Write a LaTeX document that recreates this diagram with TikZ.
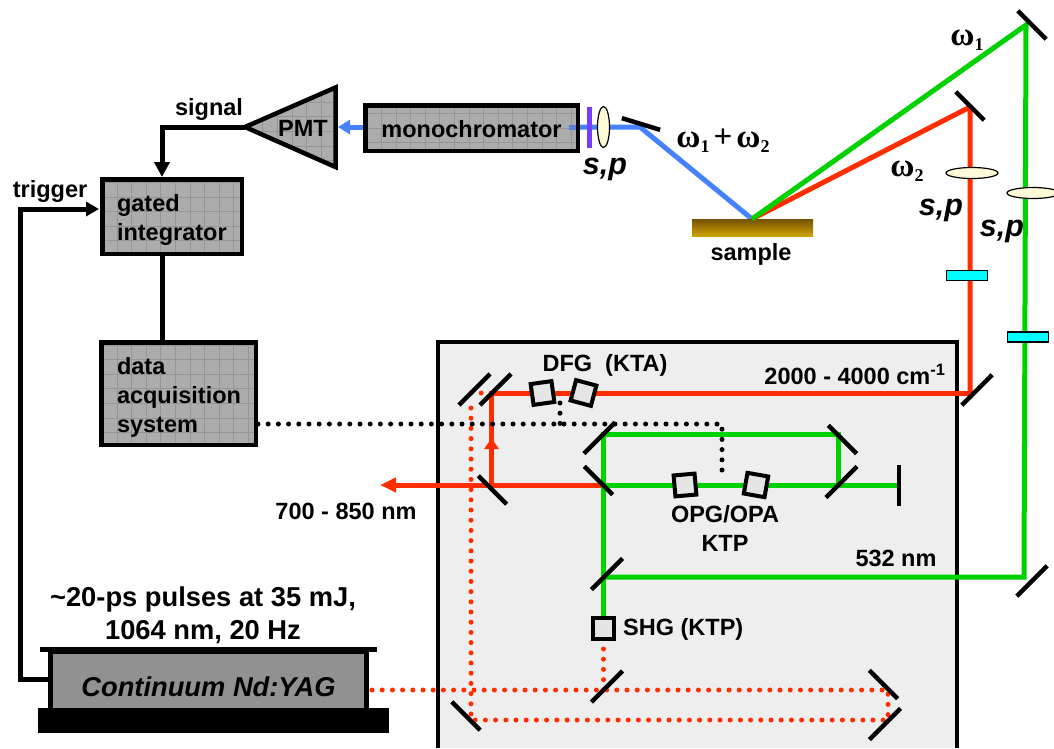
\documentclass[tikz,border=0pt]{standalone}
\usepackage{fontspec}
\setmainfont{Liberation Sans}
\newfontfamily\omegafont{Liberation Serif}
\usetikzlibrary{arrows.meta,shapes.geometric}
\definecolor{beamred}{RGB}{255,45,0}
\definecolor{beamgreen}{RGB}{0,210,0}
\definecolor{beamblue}{RGB}{70,130,255}
\definecolor{boxgray}{RGB}{172,172,172}
\definecolor{gridgray}{RGB}{150,150,150}
\definecolor{tablegray}{RGB}{238,238,238}
\definecolor{lensyellow}{RGB}{255,250,215}
\definecolor{plateblue}{RGB}{0,255,255}
\definecolor{platepurple}{RGB}{120,60,255}
\definecolor{sampletop}{RGB}{115,82,5}
\definecolor{samplebot}{RGB}{208,162,0}
\newcommand{\omegasub}[1]{ω\raisebox{-5pt}{\fontsize{18}{18}\selectfont #1}}
\tikzset{
  every node/.style={font=\fontsize{23.5}{29}\selectfont\bfseries,inner sep=0pt},
  gridbox/.style={draw=black,line width=4.5pt,fill=boxgray,path picture={
    \draw[gridgray,line width=0.7pt,step=14.6pt] (path picture bounding box.south west) grid (path picture bounding box.north east);}},
  mirror/.style={rectangle,fill=black,minimum width=#1,minimum height=4.5pt},
  mirror/.default=42pt,
  crystal/.style={rectangle,draw=black,line width=4pt,fill=black!10,minimum size=21pt},
  lens/.style={ellipse,draw=black,line width=1.2pt,fill=lensyellow},
  waveplate/.style={rectangle,draw=black,line width=1.2pt,fill=plateblue,minimum width=41pt,minimum height=10pt},
  italics/.style={font=\fontsize{30.5}{34}\selectfont\bfseries\itshape},
  omega/.style={font=\fontsize{33}{36}\selectfont\omegafont\bfseries},
  bigtext/.style={font=\fontsize{27.3}{33}\selectfont\bfseries},
  redbeam/.style={beamred,line width=5pt},
  greenbeam/.style={beamgreen,line width=5pt},
  bluebeam/.style={beamblue,line width=5pt},
  wire/.style={black,line width=5pt},
  reddots/.style={beamred,line width=5pt,line cap=round,dash pattern=on 0pt off 10.2pt},
  blackdots/.style={black,line width=5pt,line cap=round,dash pattern=on 0pt off 10.2pt},
}
\begin{document}
\begin{tikzpicture}[x=1pt,y=-1pt]
  \useasboundingbox (0,0) rectangle (1054,748);
  \fill[tablegray] (438,748) -- (438,342) -- (957,342) -- (957,748) -- cycle;
  \draw[black,line width=4.5pt] (438,748) -- (438,342) -- (957,342) -- (957,748);

  \node[gridbox,minimum width=139.5pt,minimum height=74.5pt,text width=110pt,align=left] (gated) at (172,216.5) {\rule{0pt}{24pt}gated\\integrator};
  \node[gridbox,minimum width=154.5pt,minimum height=102.5pt,text width=123pt,align=left] (daq) at (178.5,393.5) {\rule{0pt}{24pt}data\\acquisition\\system};
  \node[gridbox,minimum width=212.5pt,minimum height=45.5pt] (mono) at (471.5,128) {\raisebox{-9.5pt}[0pt][0pt]{monochromator}};
  \coordinate (pmttip) at (245,127);
  \coordinate (pmttop) at (335.5,87.5);
  \coordinate (pmtbot) at (335.5,167);
  \coordinate (pmtin) at (338,127);
  \draw[gridbox,line join=miter] (pmttip) -- (pmttop) -- (pmtbot) -- cycle;
  \node (pmt) at (303,128) {PMT};

  \coordinate (sigturn) at (162,127);
  \coordinate (gatedtop) at (162,177);
  \coordinate (gatedbot) at (162,254);
  \coordinate (daqtop) at (162,342);
  \coordinate (trigout) at (50,679);
  \coordinate (trigbot) at (20,679);
  \coordinate (trigtop) at (20,209);
  \coordinate (trigin) at (99,209);
  \draw[wire,-{Triangle[length=15pt,width=15pt]}] (pmttip) -- (sigturn) -- (gatedtop);
  \draw[wire] (gatedbot) -- (daqtop);
  \draw[wire,line join=miter,-{Triangle[length=13pt,width=14pt]}] (trigout) -- (trigbot) -- (trigtop) -- (trigin);

  \node (signal) at (209,109) {signal};
  \node (trigger) at (50,191) {trigger};

  \node[fill=black,minimum width=337pt,minimum height=5pt] (yagtop) at (208.5,649.5) {};
  \node[draw=black,line width=5pt,fill=black!43,minimum width=316pt,minimum height=60pt,font=\fontsize{27.3}{33}\selectfont\bfseries\itshape] (yag) at (208.5,681) {\raisebox{-15pt}[0pt][0pt]{Continuum Nd:YAG}};
  \node[fill=black,minimum width=351.5pt,minimum height=25pt] (yagbase) at (213.25,720.5) {};
  \node[bigtext,align=center] (yaglabel) at (203,615) {\textasciitilde20-ps pulses at 35 mJ,\\1064 nm, 20 Hz};

  \coordinate (monoout) at (580,127);
  \coordinate (monostub) at (569,127);
  \coordinate (monoedge) at (576,127);
  \coordinate (monoin) at (363,127);
  \coordinate (sumturn) at (640,127);
  \coordinate (focus) at (752,219);
  \draw[bluebeam,beamblue!70!gray] (monostub) -- (monoedge);
  \draw[bluebeam] (monoout) -- (sumturn) -- (focus);
  \draw[bluebeam,-{Triangle[length=12pt,width=14pt]}] (monoin) -- (pmtin);
  \node[fill=platepurple,minimum width=5pt,minimum height=41pt] (analyzer) at (589,127.5) {};
  \node[lens,minimum width=12pt,minimum height=41pt] (lens3) at (603.5,127) {};
  \node[mirror=40pt,rotate=-17] (m13) at (641,124) {};
  \node[italics] (sp3) at (605,169) {s,p};
  \node[omega] (sumlabel) at (723,141) {\omegasub{1}\kern4pt+\kern4pt\omegasub{2}};
  \node[top color=sampletop,bottom color=samplebot,minimum width=121pt,minimum height=17pt] (sample) at (752.5,227.5) {};
  \node (samplelabel) at (751,254) {sample};

  \coordinate (redin) at (970,393);
  \coordinate (redup) at (970,107);
  \coordinate (greenup) at (1026,25);
  \coordinate (greenin) at (1024,577);
  \coordinate (gF) at (603.5,577);
  \draw[redbeam,line join=bevel] (focus) -- (redup) -- (redin);
  \draw[greenbeam,line join=miter] (focus) -- (greenup) -- (greenin) -- (gF);
  \node[mirror=40pt,rotate=-45] (m11) at (1032,25) {};
  \node[mirror=40pt,rotate=-45] (m12) at (970,106) {};
  \node[lens,minimum width=52pt,minimum height=11pt] (lens1) at (972,173) {};
  \node[lens,minimum width=52pt,minimum height=11pt] (lens2) at (1033,193) {};
  \node[waveplate] (wp1) at (967,275.5) {};
  \node[waveplate] (wp2) at (1028,337) {};
  \node[omega] (w1) at (967,40) {\omegasub{1}};
  \node[omega] (w2) at (907,171) {\omegasub{2}};
  \node[italics] (sp1) at (941,210) {s,p};
  \node[italics] (sp2) at (1002,231) {s,p};

  \coordinate (yagout) at (372,690);
  \coordinate (foldA) at (888,690);
  \coordinate (foldB) at (888,720);
  \coordinate (foldC) at (471,720);
  \coordinate (foldD) at (471,403);
  \coordinate (shgout) at (603.5,649);
  \coordinate (shgfold) at (603.5,690);
  \coordinate (dotA) at (471,393);
  \coordinate (dotB) at (491,393);
  \draw[reddots] (yagout) -- (foldA) -- (foldB) -- (foldC) -- (foldD);
  \draw[reddots] (shgout) -- (shgfold);
  \draw[reddots] (dotA) -- (dotB);

  \coordinate (redtop) at (491.5,393);
  \coordinate (redbot) at (491.5,485);
  \coordinate (redmark) at (491.5,438);
  \coordinate (splitA) at (603.5,485);
  \coordinate (redexit) at (380,485);
  \draw[redbeam,line join=miter] (redin) -- (redtop) -- (redbot) -- (splitA);
  \draw[redbeam,-{Triangle[length=11pt,width=14pt]}] (redbot) -- (redmark);
  \draw[redbeam,-{Triangle[length=16pt,width=14pt]}] (splitA) -- (redexit);

  \coordinate (gA) at (603.5,434);
  \coordinate (gB) at (838,434);
  \coordinate (gC) at (838,485);
  \coordinate (gD) at (899,485);
  \coordinate (gE) at (603.5,640);
  \draw[greenbeam] (splitA) -- (gD);
  \draw[greenbeam,line join=miter] (gC) -- (gB) -- (gA) -- (gE);

  \coordinate (daqout) at (258,424);
  \coordinate (delayA) at (722,424);
  \coordinate (delayB) at (722,475);
  \coordinate (dfgdelayA) at (560,403);
  \coordinate (dfgdelayB) at (560,424);
  \draw[blackdots] (daqout) -- (delayA) -- (delayB);
  \draw[blackdots] (dfgdelayA) -- (dfgdelayB);

  \node[mirror=44pt,rotate=45] (m1) at (474.5,389.5) {};
  \node[mirror=44pt,rotate=45] (m2) at (495.5,389.5) {};
  \node[mirror=40pt,rotate=-45] (m3) at (492.5,490) {};
  \node[mirror=40pt,rotate=-45] (m4) at (598.5,480.5) {};
  \node[mirror=44pt,rotate=45] (m5) at (599.5,438) {};
  \node[mirror=40pt,rotate=-45] (m6) at (842.5,439.5) {};
  \node[mirror=44pt,rotate=45] (m7) at (841.5,482) {};
  \node[mirror=41pt,rotate=90] (m8) at (899,485.5) {};
  \node[mirror=44pt,rotate=45] (m9) at (607,574) {};
  \node[mirror=44pt,rotate=45] (m10) at (607,686.5) {};
  \node[mirror=40pt,rotate=-45] (m14) at (883.5,684.5) {};
  \node[mirror=44pt,rotate=45] (m15) at (885,724) {};
  \node[mirror=40pt,rotate=-45] (m16) at (466,716) {};
  \node[mirror=43pt,rotate=45] (m17) at (977,390) {};
  \node[mirror=43pt,rotate=45] (m18) at (1032,581) {};

  \node[crystal,rotate=8] (dfg1) at (542.5,393) {};
  \node[crystal,rotate=-15] (dfg2) at (583.5,393) {};
  \node[crystal,rotate=5] (opg1) at (685,485) {};
  \node[crystal,rotate=-10] (opg2) at (756,485) {};
  \node[crystal] (shg) at (603.5,628) {};

  \node (dfglabel) at (605,365) {DFG\ \ (KTA)};
  \node (idlerlabel) at (855,374) {2000 - 4000 cm\textsuperscript{-1}};
  \node[align=center] (opglabel) at (725,528) {OPG/OPA\\KTP};
  \node (greenlabel) at (896,558) {532 nm};
  \node[anchor=west] (shglabel) at (623,629) {SHG (KTP)};
  \node (exitlabel) at (346,511) {700 - 850 nm};
\end{tikzpicture}
\end{document}
